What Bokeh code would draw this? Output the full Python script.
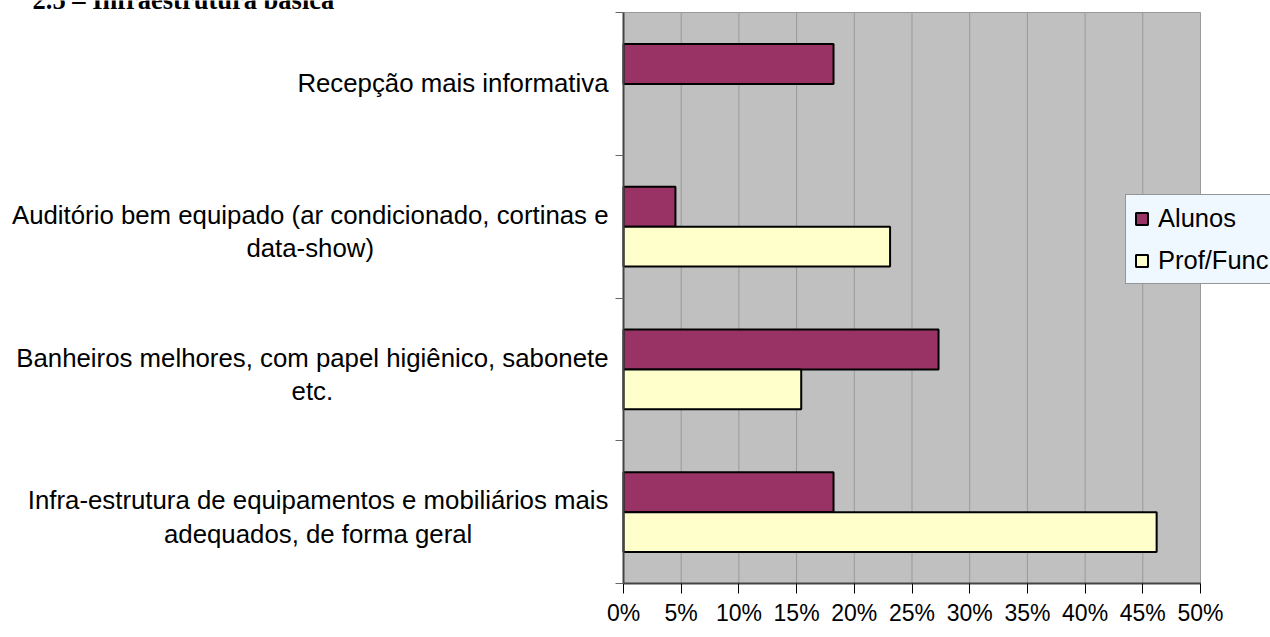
from bokeh.plotting import figure
from bokeh.models import (Range1d, FixedTicker, Label, Legend, LegendItem,
                          ColumnDataSource)
from bokeh.core.properties import value
from bokeh.embed import file_html
from bokeh.resources import INLINE

# ---------------- data ----------------
title_text = "2.5 – Infraestrutura básica"
categories = [
    "Recepção mais informativa",
    "Auditório bem equipado (ar condicionado, cortinas e\ndata-show)",
    "Banheiros melhores, com papel higiênico, sabonete\netc.",
    "Infra-estrutura de equipamentos e mobiliários mais\nadequados, de forma geral",
]
alunos = [18.2, 4.5, 27.3, 18.2]
prof_func = [0.0, 23.1, 15.4, 46.2]
series_names = ["Alunos", "Prof/Func"]
x_ticks = [0, 5, 10, 15, 20, 25, 30, 35, 40, 45, 50]
x_tick_labels = ["0%", "5%", "10%", "15%", "20%", "25%", "30%", "35%", "40%", "45%", "50%"]

# ---------------- layout / styles (pixels) ----------------
W, H = 1270, 637
PLOT_L, PLOT_R, PLOT_T, PLOT_B = 623, 1200, 12, 583
COL_A = "#993366"
COL_P = "#FFFFCC"
BAR_H = 0.28
FONT = "Liberation Sans"

n = len(categories)
pos = [n - 1 - i for i in range(n)]  # first category at the top
x0, x1 = x_ticks[0], x_ticks[-1]
y0, y1 = -0.5, n - 0.5
kx = (PLOT_R - PLOT_L) / (x1 - x0)
ky = (PLOT_B - PLOT_T) / (y1 - y0)

# the frame covers the whole canvas so that legend and title are not clipped
p = figure(width=W, height=H, output_backend="svg", toolbar_location=None,
           x_range=Range1d(x0 - PLOT_L / kx, x1 + (W - PLOT_R) / kx),
           y_range=Range1d(y0 - (H - PLOT_B) / ky, y1 + PLOT_T / ky),
           min_border=0, min_border_left=0, min_border_right=0,
           min_border_top=0, min_border_bottom=0)
p.background_fill_color = "white"
p.border_fill_color = "white"
p.outline_line_color = None
p.xgrid.visible = False
p.ygrid.visible = False

# plot area
p.quad(left=x0, right=x1, bottom=y0, top=y1, fill_color="#C0C0C0",
       line_color="#999999", line_width=1)
# vertical grid lines
gx = x_ticks[1:-1]
p.segment(x0=gx, x1=gx, y0=[y0] * len(gx), y1=[y1] * len(gx),
          line_color="#999999", line_width=1)

def src(vals, offset):
    ys, rs = [], []
    for y, v in zip(pos, vals):
        if v > 0:
            ys.append(y + offset)
            rs.append(v)
    return ColumnDataSource(dict(y=ys, right=rs))

ra = p.hbar(y="y", right="right", left=0, height=BAR_H, source=src(alunos, BAR_H / 2),
            fill_color=COL_A, line_color="black", line_width=2)
rp = p.hbar(y="y", right="right", left=0, height=BAR_H, source=src(prof_func, -BAR_H / 2),
            fill_color=COL_P, line_color="black", line_width=2)

# x axis (fixed at the bottom of the plot area)
xa = p.xaxis[0]
xa.fixed_location = y0
xa.bounds = (x0, x1)
xa.ticker = FixedTicker(ticks=x_ticks, minor_ticks=[])
xa.major_label_overrides = {t: l for t, l in zip(x_ticks, x_tick_labels)}
xa.axis_line_color = "#444444"
xa.axis_line_width = 2
xa.major_tick_line_color = "black"
xa.major_tick_line_width = 1
xa.major_tick_out = 10
xa.major_tick_in = 0
xa.minor_tick_line_color = None
xa.major_label_text_font = FONT
xa.major_label_text_font_size = "23px"
xa.major_label_text_color = "black"
xa.major_label_standoff = 6

# y axis (fixed at x = 0), separators as minor ticks
ya = p.yaxis[0]
ya.fixed_location = x0
ya.bounds = (y0, y1)
ya.ticker = FixedTicker(ticks=pos, minor_ticks=[k - 0.5 for k in range(n + 1)])
ya.major_label_overrides = {y: "" for y in pos}
ya.axis_line_color = "#444444"
ya.axis_line_width = 2
ya.major_tick_line_color = None
ya.major_tick_out = 0
ya.major_tick_in = 0
ya.minor_tick_line_color = "#666666"
ya.minor_tick_out = 8
ya.minor_tick_in = 0

# category labels: centred lines, block right-aligned next to the axis
label_src = ColumnDataSource(dict(
    x=[x0] * n, y=pos, text=categories,
    dy=[-1 if "\n" not in c else 5 for c in categories]))
p.text(x="x", y="y", text="text", source=label_src, anchor="center_right",
       text_align="center", text_baseline="middle", x_offset=-15, y_offset="dy",
       text_font=value(FONT), text_font_size="25.8px", text_color="black",
       text_line_height=1.2)

# legend
legend = Legend(items=[LegendItem(label=series_names[0], renderers=[ra]),
                       LegendItem(label=series_names[1], renderers=[rp])],
                location=(1125, H - 284))
legend.label_text_font = FONT
legend.label_text_font_size = "25.5px"
legend.label_text_color = "black"
legend.glyph_width = 15
legend.glyph_height = 15
legend.label_standoff = 9
legend.label_height = 30
legend.padding = 8
legend.spacing = 12
legend.margin = 0
legend.border_line_color = "#333333"
legend.border_line_width = 1
legend.background_fill_color = "#F0F8FF"
legend.background_fill_alpha = 1.0
p.add_layout(legend)

# title (cut at the top edge, as in the reference)
p.add_layout(Label(x=32, y=H + 1, x_units="screen", y_units="screen", text=title_text,
                   text_font="Liberation Serif", text_font_style="bold",
                   text_font_size="26.5px", text_color="black", text_baseline="alphabetic"))

open("out.html", "w").write(file_html(p, INLINE))
